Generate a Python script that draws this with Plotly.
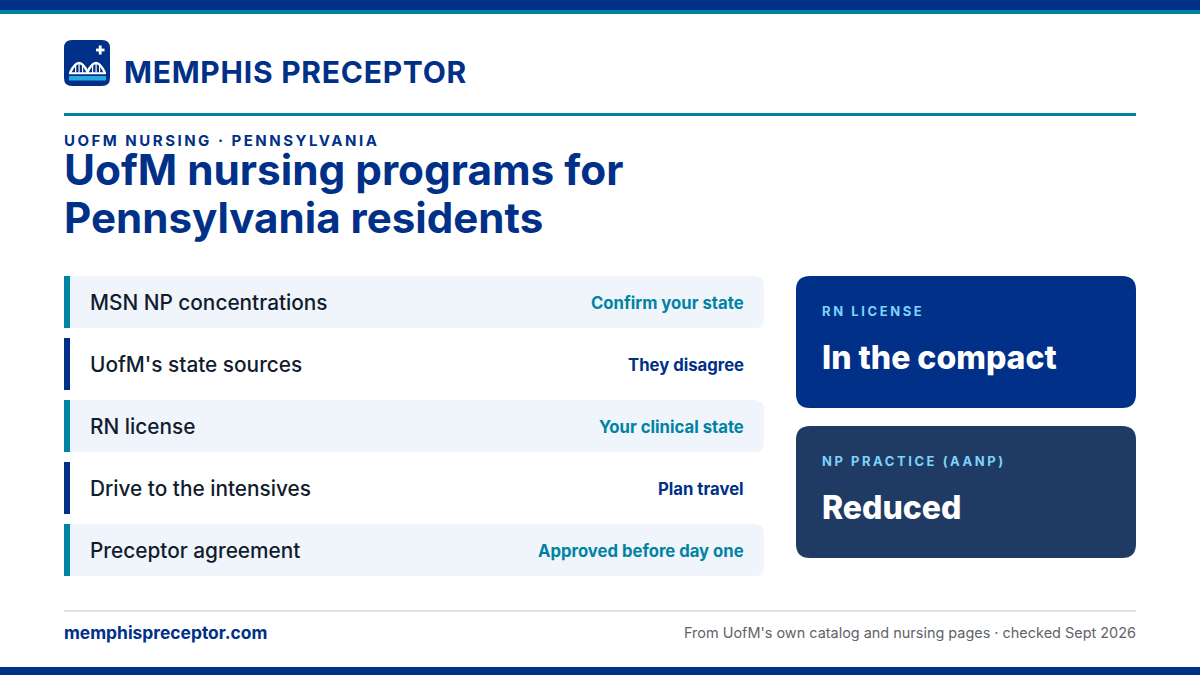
import plotly.graph_objects as go

NAVY = "#003087"
TEAL = "#0083A3"
INK = "#111C2E"

row_labels = ["MSN NP concentrations", "UofM's state sources", "RN license",
              "Drive to the intensives", "Preceptor agreement"]
row_notes = ["Confirm your state", "They disagree", "Your clinical state",
             "Plan travel", "Approved before day one"]
card_labels = ["RN LICENSE", "NP PRACTICE (AANP)"]
card_values = ["In the compact", "Reduced"]
card_colors = [NAVY, "#1F3B63"]
card_tops = [276, 426]

fig = go.Figure()


def rect(x0, y0, x1, y1, color):
    fig.add_shape(type="rect", x0=x0, y0=y0, x1=x1, y1=y1, fillcolor=color, line_width=0, layer="below")


def rounded(x0, y0, x1, y1, r, color, left=True):
    # rounded box, left=False keeps the left corners square
    if left:
        start = f"M{x0+r},{y0}"
        end = f"L{x0},{y0+r} Q{x0},{y0} {x0+r},{y0} Z"
        low = f"L{x0+r},{y1} Q{x0},{y1} {x0},{y1-r} "
    else:
        start = f"M{x0},{y0}"
        end = "Z"
        low = f"L{x0},{y1} "
    p = (start + f" L{x1-r},{y0} Q{x1},{y0} {x1},{y0+r} L{x1},{y1-r} Q{x1},{y1} {x1-r},{y1} " + low + end)
    fig.add_shape(type="path", path=p, fillcolor=color, line_width=0, layer="below")


def label(x, y, s, size, color, weight=400, anchor="left"):
    fig.add_annotation(x=x, y=y, text=s, showarrow=False, xanchor=anchor, yanchor="middle",
                       borderpad=0, borderwidth=0,
                       font=dict(family="Inter", size=size, color=color, weight=weight))


# top and bottom bands
rect(0, 0, 1200, 10, NAVY)
rect(0, 10, 1200, 14, TEAL)
rect(0, 667, 1200, 675, NAVY)

# logo
rounded(64, 40, 110, 86, 8, NAVY)
rect(69, 76, 106, 80.5, "#29A9E0")
rect(96, 48.6, 104.5, 51.4, "white")
rect(98.8, 45.5, 101.6, 54.5, "white")
for foot, end in ((70, 88), (87, 105)):
    fig.add_shape(type="path", layer="below", fillcolor="rgba(0,0,0,0)", line=dict(color="white", width=2.4),
                  path=f"M{foot},73 Q{(foot + end) / 2},53 {end},73")
rect(69, 72.2, 106, 74.2, "white")
for bx in (75, 78.5, 82, 92, 95.5, 99):
    rect(bx, 64, bx + 1.2, 73, "white")

label(124, 72, "MEMPHIS PRECEPTOR", 30, NAVY, 700)
rect(64, 113, 1136, 116, TEAL)

label(64, 140, "UOFM NURSING · PENNSYLVANIA", 15, NAVY, 700)
label(64, 169, "UofM nursing programs for", 42.3, NAVY, 700)
label(64, 217, "Pennsylvania residents", 42.1, NAVY, 700)

# rows
for i in range(len(row_labels)):
    top = 276 + i * 62
    if i % 2 == 0:
        rounded(70, top, 764, top + 52, 10, "#F0F4FB", left=False)
    rect(64, top, 70, top + 52, TEAL if i % 2 == 0 else NAVY)
    label(90, top + 26, row_labels[i], 20.8, INK, 500)
    label(744, top + 27, row_notes[i], 16.7, TEAL if i % 2 == 0 else NAVY, 700, anchor="right")

# cards
for i in range(len(card_labels)):
    top = card_tops[i]
    rounded(796, top, 1136, top + 132, 14, card_colors[i])
    label(822, top + 35, card_labels[i], 13, "#7DD3FC", 700)
    label(822, top + 81, card_values[i], 32, "white", 800)

# footer
rect(64, 610, 1136, 612, "#E3E3E3")
label(64, 632, "memphispreceptor.com", 17.4, NAVY, 700)
label(1136, 632.5, "From UofM's own catalog and nursing pages · checked Sept 2026", 14.45, "#5F6368", 400, anchor="right")

fig.update_layout(width=1200, height=675, margin=dict(l=0, r=0, t=0, b=0), showlegend=False,
                  paper_bgcolor="white", plot_bgcolor="white",
                  xaxis=dict(range=[0, 1200], visible=False, fixedrange=True),
                  yaxis=dict(range=[675, 0], visible=False, fixedrange=True))

# plotly has no letter spacing option, so set it after drawing and shift the
# text by half the growth since annotations are middle anchored
after_draw = """
document.body.style.margin = '0';
var sp = {"UOFM NURSING · PENNSYLVANIA": 2.5, "RN LICENSE": 2.6, "NP PRACTICE (AANP)": 2.55,
          "MEMPHIS PRECEPTOR": 0.75};
document.querySelectorAll('.annotation-text').forEach(function (t) {
  var s = sp[t.textContent];
  if (s) {
    var w0 = t.getComputedTextLength();
    t.style.letterSpacing = s + 'px';
    var w1 = t.getComputedTextLength();
    t.setAttribute('x', parseFloat(t.getAttribute('x')) + (w1 - w0) / 2);
  }
});
"""
fig.write_html("out.html", post_script=after_draw, config={"displayModeBar": False})
